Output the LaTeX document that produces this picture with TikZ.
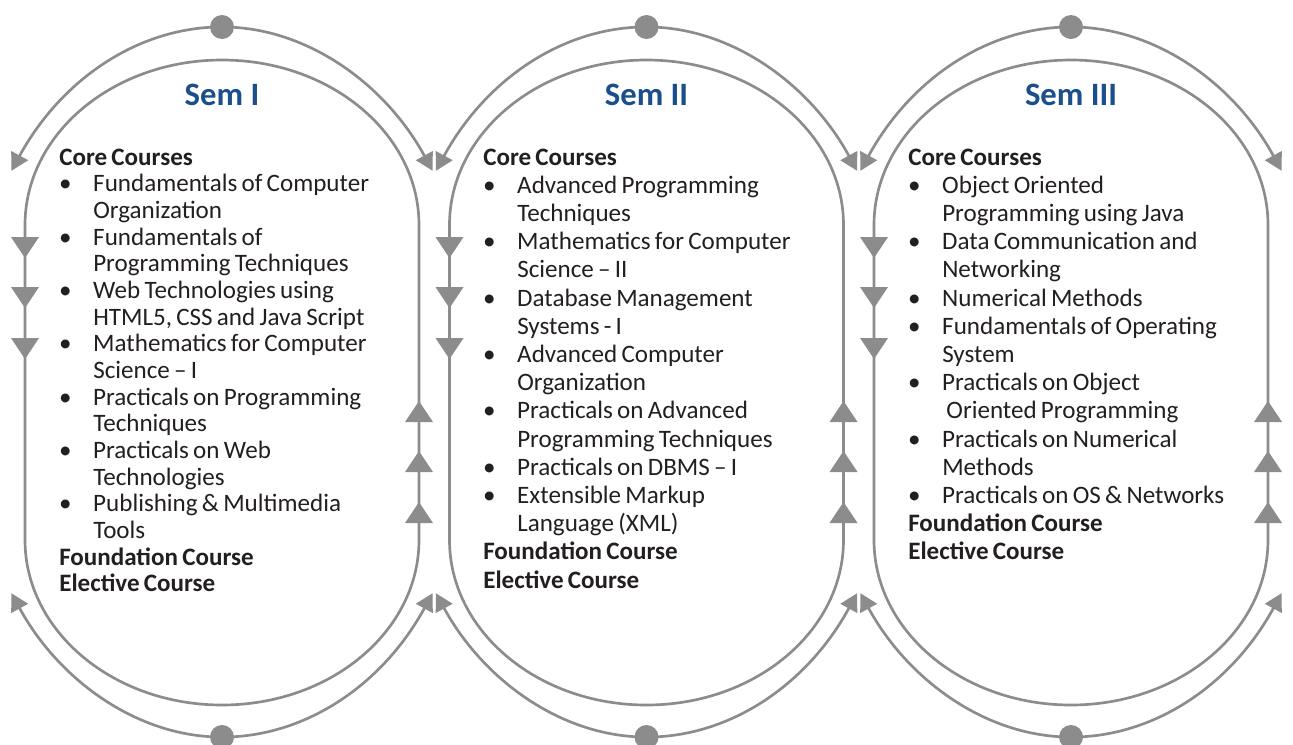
\documentclass[tikz,border=0pt]{standalone}
\usepackage{fontspec}
\setmainfont{Carlito}
\usetikzlibrary{arrows.meta}
\definecolor{linegray}{HTML}{8C8C8C}
\definecolor{semblue}{HTML}{1B4F8C}
\definecolor{txtcol}{HTML}{231F20}
\newcommand{\bitem}[1]{\makebox[25.5pt][l]{\makebox[9pt][c]{\textbullet}}#1}
\newcommand{\citem}[1]{\hspace*{25.5pt}#1}
\newcommand{\tightsp}{\spaceskip=3.2pt plus 1pt minus 0.5pt\relax}
\begin{document}
\begin{tikzpicture}[x=0.75pt,y=-0.75pt,
  ring/.style={draw=linegray, line width=2pt},
  arcarrow/.style={draw=linegray, line width=2pt, {Triangle[length=13pt,width=14pt]}-{Triangle[length=13pt,width=14pt]}},
  tri/.style={fill=linegray},
  dot/.style={circle, fill=linegray, inner sep=0pt, minimum size=18pt},
  heading/.style={text=semblue, font=\fontsize{24.5}{28}\selectfont\bfseries, inner sep=0pt},
  txtblock/.style={text=txtcol, text width=300pt, align=left, inner sep=0pt, anchor=base west}]
\useasboundingbox (0,0) rectangle (1293,744);
\foreach \c/\n in {222/1, 646.5/2, 1071/3}{
  % inner stadium
  \draw[ring] (\c-197,225) -- (\c-197,540)
     arc[start angle=180, end angle=0, x radius=197, y radius=165]
     -- (\c+197,225)
     arc[start angle=0, end angle=-180, x radius=197, y radius=165] -- cycle;
  % outer arcs
  \draw[arcarrow] (\c-210.6,170.8) arc[start angle=216.5, end angle=323.5, x radius=262, y radius=355];
  \draw[arcarrow] (\c+210.6,593.2) arc[start angle=36.5, end angle=143.5, x radius=262, y radius=355];
  \node[dot] (top\n) at (\c,27) {};
  \node[dot] (bot\n) at (\c,737) {};
  % down arrows on left side
  \foreach \yb in {237,287,338}{
    \fill[tri] (\c-211,\yb) -- (\c-183,\yb) -- (\c-197,\yb+21) -- cycle;
  }
  % up arrows on right side
  \foreach \yb in {422,472,523}{
    \fill[tri] (\c+183,\yb) -- (\c+211,\yb) -- (\c+197,\yb-21) -- cycle;
  }
}
\node[heading] (h1) at (222,95) {Sem I};
\node[heading] (h2) at (646.5,95) {Sem II};
\node[heading] (h3) at (1071,95) {Sem III};

\node[txtblock, font=\fontsize{18.8}{20}\selectfont] (t1) at (59,165) {\tightsp
\textbf{Core Courses}\\
\bitem{Fundamentals of Computer}\\
\citem{Organization}\\
\bitem{Fundamentals of}\\
\citem{Programming Techniques}\\
\bitem{Web Technologies using}\\
\citem{HTML5, CSS and Java Script}\\
\bitem{Mathematics for Computer}\\
\citem{Science – I}\\
\bitem{Practicals on Programming}\\
\citem{Techniques}\\
\bitem{Practicals on Web}\\
\citem{Technologies}\\
\bitem{Publishing \& Multimedia}\\
\citem{Tools}\\
\textbf{Foundation Course}\\
\textbf{Elective Course}};

\node[txtblock, font=\fontsize{18.8}{21.15}\selectfont] (t2) at (483,165) {\tightsp
\textbf{Core Courses}\\
\bitem{Advanced Programming}\\
\citem{Techniques}\\
\bitem{Mathematics for Computer}\\
\citem{Science – II}\\
\bitem{Database Management}\\
\citem{Systems - I}\\
\bitem{Advanced Computer}\\
\citem{Organization}\\
\bitem{Practicals on Advanced}\\
\citem{Programming Techniques}\\
\bitem{Practicals on DBMS – I}\\
\bitem{Extensible Markup}\\
\citem{Language (XML)}\\
\textbf{Foundation Course}\\
\textbf{Elective Course}};

\node[txtblock, font=\fontsize{18.8}{21.15}\selectfont] (t3) at (908,165) {\tightsp
\textbf{Core Courses}\\
\bitem{Object Oriented}\\
\citem{Programming using Java}\\
\bitem{Data Communication and}\\
\citem{Networking}\\
\bitem{Numerical Methods}\\
\bitem{Fundamentals of Operating}\\
\citem{System}\\
\bitem{Practicals on Object}\\
\citem{\,Oriented Programming}\\
\bitem{Practicals on Numerical}\\
\citem{Methods}\\
\bitem{Practicals on OS \& Networks}\\
\textbf{Foundation Course}\\
\textbf{Elective Course}};
\end{tikzpicture}
\end{document}
